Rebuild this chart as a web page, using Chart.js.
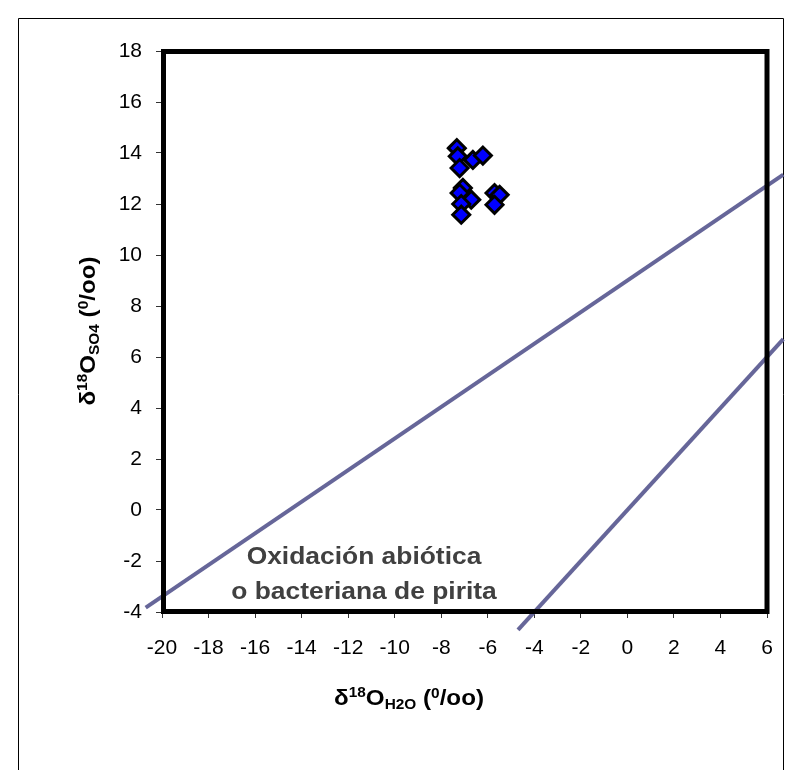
<!DOCTYPE html>
<html><head><meta charset="utf-8">
<script src="https://cdn.jsdelivr.net/npm/chart.js@4.4.0/dist/chart.umd.min.js"></script>
<style>html,body{margin:0;padding:0;background:#fff}#wrap{width:795px;height:770px;position:relative}</style>
</head><body><div id="wrap"><canvas id="c"></canvas></div>
<script>
// ---- data ----
const sampleX = [-7.33, -7.29, -6.64, -6.21, -7.21, -7.07, -7.21, -6.71, -7.14, -7.14, -5.71, -5.49, -5.71];
const sampleY = [14.19, 13.87, 13.73, 13.90, 13.41, 12.63, 12.43, 12.17, 12.00, 11.58, 12.43, 12.36, 11.97];
const line1X = [-20.7, 6.7];
const line1Y = [-3.83, 13.15];
const line2X = [-4.7, 6.7];
const line2Y = [-4.7, 6.7];
const xTicks = [-20, -18, -16, -14, -12, -10, -8, -6, -4, -2, 0, 2, 4, 6];
const yTicks = [-4, -2, 0, 2, 4, 6, 8, 10, 12, 14, 16, 18];
const annotationLines = ["Oxidación abiótica", "o bacteriana de pirita"];

const FF = "'Liberation Sans', Arial, Helvetica, sans-serif";
const pts = (xs, ys) => xs.map((x, i) => ({x: x, y: ys[i]}));

function drawRich(ctx, segs, cx, cy, rot, sx) {
  ctx.save();
  ctx.translate(cx, cy);
  if (rot) ctx.rotate(rot);
  ctx.scale(sx, 1);
  let total = 0;
  segs.forEach(s => { ctx.font = 'bold ' + s.size + 'px ' + FF; s.w = ctx.measureText(s.t).width; total += s.w; });
  let x = -total / 2;
  ctx.textAlign = 'left';
  ctx.textBaseline = 'alphabetic';
  ctx.fillStyle = '#000';
  segs.forEach(s => { ctx.font = 'bold ' + s.size + 'px ' + FF; ctx.fillText(s.t, x, 8 + s.dy); x += s.w; });
  ctx.restore();
}

const deco = {
  id: 'deco',
  beforeDraw(chart) {
    const ctx = chart.ctx;
    ctx.save();
    ctx.fillStyle = '#fff';
    ctx.fillRect(0, 0, chart.width, chart.height);
    ctx.strokeStyle = '#000';
    ctx.lineWidth = 1;
    ctx.beginPath();
    ctx.moveTo(18.5, 780); ctx.lineTo(18.5, 18.5); ctx.lineTo(783.5, 18.5); ctx.lineTo(783.5, 780);
    ctx.stroke();
    ctx.restore();
  },
  afterDatasetsDraw(chart) {
    const ctx = chart.ctx, a = chart.chartArea;
    ctx.save();
    ctx.strokeStyle = '#000';
    ctx.lineWidth = 5;
    ctx.strokeRect(a.left + 1.5, a.top + 0.5, a.right - a.left - 1.5, a.bottom - a.top - 1);
    ctx.restore();
  },
  afterDraw(chart) {
    const ctx = chart.ctx;
    drawRich(ctx, [
      {t: 'δ', size: 22, dy: 0}, {t: '18', size: 14, dy: -8}, {t: 'O', size: 22, dy: 0},
      {t: 'H2O', size: 14, dy: 4}, {t: ' (', size: 22, dy: 0}, {t: '0', size: 14, dy: -7},
      {t: '/oo)', size: 22, dy: 0}
    ], 409, 697, 0, 1.1);
    drawRich(ctx, [
      {t: 'δ', size: 22, dy: 0}, {t: '18', size: 14, dy: -8}, {t: 'O', size: 22, dy: 0},
      {t: 'SO4', size: 14, dy: 4}, {t: ' (', size: 22, dy: 0}, {t: '0', size: 14, dy: -7},
      {t: '/oo)', size: 22, dy: 0}
    ], 87, 331, -Math.PI / 2, 1.1);
    ctx.save();
    ctx.fillStyle = '#404040';
    ctx.font = 'bold 24px ' + FF;
    ctx.textAlign = 'center';
    ctx.textBaseline = 'alphabetic';
    ctx.translate(364, 0);
    ctx.scale(1.1, 1);
    ctx.fillText(annotationLines[0], 0, 564);
    ctx.fillText(annotationLines[1], 0, 599);
    ctx.restore();
  }
};

new Chart(document.getElementById('c'), {
  type: 'scatter',
  data: {
    datasets: [
      {
        label: 'Muestras',
        data: pts(sampleX, sampleY),
        pointStyle: 'rectRot',
        pointRadius: 8.5,
        pointHoverRadius: 8.5,
        backgroundColor: '#0000ff',
        borderColor: '#000000',
        borderWidth: 3
      },
      {
        label: 'Línea 1',
        data: pts(line1X, line1Y),
        showLine: true,
        pointRadius: 0,
        borderColor: '#666699',
        borderWidth: 4,
        clip: false
      },
      {
        label: 'Línea 2',
        data: pts(line2X, line2Y),
        showLine: true,
        pointRadius: 0,
        borderColor: '#666699',
        borderWidth: 4,
        clip: false
      }
    ]
  },
  options: {
    responsive: true,
    maintainAspectRatio: false,
    animation: false,
    events: [],
    layout: {padding: {top: 51, right: 28, left: 0, bottom: 0}},
    plugins: {legend: {display: false}, tooltip: {enabled: false}, title: {display: false}},
    scales: {
      x: {
        type: 'linear',
        min: -20, max: 6,
        afterBuildTicks(s) { s.ticks = xTicks.map(v => ({value: v})); },
        afterFit(s) { s.height = 158; },
        grid: {drawOnChartArea: false, drawTicks: true, tickLength: 6, color: '#333', lineWidth: 1},
        border: {display: false},
        ticks: {color: '#000', font: {family: FF, size: 21}, padding: 18, maxRotation: 0, autoSkip: false}
      },
      y: {
        type: 'linear',
        min: -4, max: 18,
        afterBuildTicks(s) { s.ticks = yTicks.map(v => ({value: v})); },
        afterFit(s) { s.width = 162; },
        grid: {drawOnChartArea: false, drawTicks: true, tickLength: 6, color: '#333', lineWidth: 1},
        border: {display: false},
        ticks: {color: '#000', font: {family: FF, size: 21}, padding: 14, autoSkip: false}
      }
    }
  },
  plugins: [deco]
});
</script>
</body></html>
